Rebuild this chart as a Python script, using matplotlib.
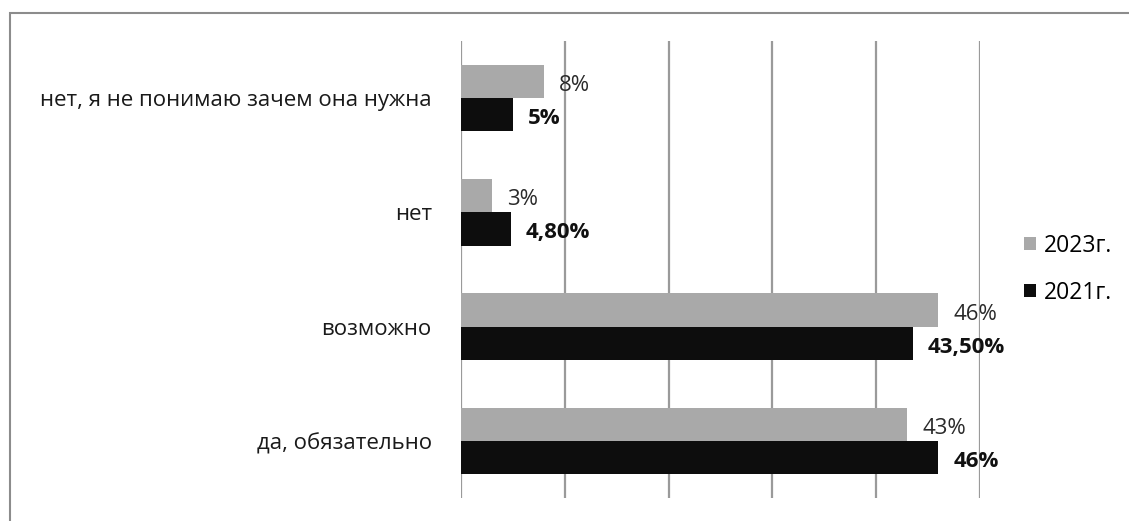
import matplotlib
matplotlib.use("Agg")
import matplotlib.pyplot as plt
from matplotlib.patches import Patch, Rectangle

categories = ["да, обязательно", "возможно", "нет", "нет, я не понимаю зачем она нужна"]
values_2023 = [43, 46, 3, 8]
values_2021 = [46, 43.5, 4.8, 5]
labels_2023 = ["43%", "46%", "3%", "8%"]
labels_2021 = ["46%", "43,50%", "4,80%", "5%"]
series_names = ["2023г.", "2021г."]

COLOR_2023 = "#a9a9a9"
COLOR_2021 = "#0d0d0d"
GRID = "#9a9a9a"

plt.rcParams["font.family"] = ["Open Sans", "DejaVu Sans"]

fig = plt.figure(figsize=(11.29, 5.21), dpi=100)
ax = fig.add_axes([461 / 1129, 1 - 498 / 521, 519 / 1129, 457 / 521])

h = 0.29
ys = list(range(len(categories)))
y23 = [y + h / 2 for y in ys]
y21 = [y - h / 2 for y in ys]

ax.barh(y23, values_2023, height=h, color=COLOR_2023, zorder=3)
ax.barh(y21, values_2021, height=h, color=COLOR_2021, zorder=3)

for y, v, lab in zip(y23, values_2023, labels_2023):
    ax.annotate(lab, (v, y), xytext=(15, -4), textcoords="offset pixels",
                ha="left", va="center", fontsize=16, color="#2a2a2a")
for y, v, lab in zip(y21, values_2021, labels_2021):
    ax.annotate(lab, (v, y), xytext=(15, -4), textcoords="offset pixels",
                ha="left", va="center", fontsize=16, color="#111111",
                fontweight="bold")

ax.set_xlim(0, 50)
ax.set_ylim(-0.5, 3.5)
ax.set_xticks([0, 10, 20, 30, 40, 50])
ax.set_xticklabels([])
ax.set_yticks(ys)
ax.set_yticklabels(categories, fontsize=16, color="#1a1a1a")
ax.tick_params(axis="both", length=0)
ax.tick_params(axis="y", pad=21)
ax.grid(axis="x", color=GRID, linewidth=1.6, zorder=0)
ax.set_axisbelow(True)
for s in ax.spines.values():
    s.set_visible(False)

handles = [Patch(facecolor=COLOR_2023), Patch(facecolor=COLOR_2021)]
fig.legend(handles, series_names, loc="upper left",
           bbox_to_anchor=(1003 / 1129, 1 - 213 / 521),
           frameon=False, fontsize=16.5, handlelength=0.55, handleheight=0.55,
           handletextpad=0.35, labelspacing=1.0)

fig.patches.append(Rectangle((10 / 1129, -0.1), 1.2, 1.1 - 13 / 521,
                             transform=fig.transFigure, fill=False,
                             edgecolor="#8c8c8c", linewidth=1.5))

fig.savefig("out.png", dpi=100)
